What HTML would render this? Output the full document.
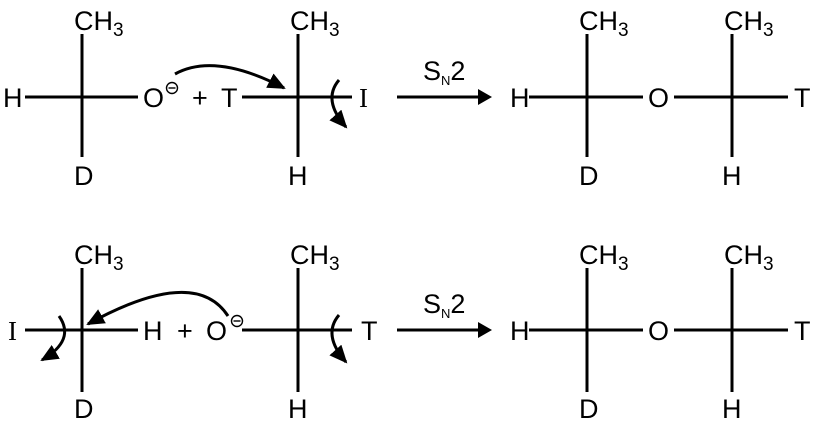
<!DOCTYPE html>
<html><head><style>body{margin:0;background:#fff}svg{display:block}text{font-family:"Liberation Sans",sans-serif;font-size:27px;fill:#000}.s{font-family:"Liberation Serif",serif}</style></head><body>
<svg width="817" height="426" viewBox="0 0 817 426">
<defs><marker id="b" markerWidth="18" markerHeight="16" refX="16" refY="8" orient="auto" markerUnits="userSpaceOnUse" viewBox="0 0 18 16"><path d="M0,0 L18,8 L0,16 z"/></marker></defs>
<g stroke="#000" stroke-width="3" fill="none">
<line x1="25" y1="97" x2="138" y2="97"/><line x1="82" y1="34" x2="82" y2="157"/>
<line x1="242" y1="97" x2="352" y2="97"/><line x1="298" y1="34" x2="298" y2="157"/>
<line x1="397" y1="97" x2="478" y2="97"/>
<line x1="529" y1="97" x2="643" y2="97"/><line x1="587" y1="34" x2="587" y2="157"/>
<line x1="674" y1="97" x2="788" y2="97"/><line x1="732" y1="34" x2="732" y2="157"/>
<path d="M175,74 Q215,52 284,88" marker-end="url(#b)"/>
<path d="M339,80 Q322,100 346,127" marker-end="url(#b)"/>
<line x1="25" y1="330" x2="138" y2="330"/><line x1="82" y1="268" x2="82" y2="392"/>
<line x1="242" y1="330" x2="352" y2="330"/><line x1="298" y1="268" x2="298" y2="392"/>
<line x1="397" y1="330" x2="478" y2="330"/>
<line x1="529" y1="330" x2="643" y2="330"/><line x1="587" y1="268" x2="587" y2="392"/>
<line x1="674" y1="330" x2="788" y2="330"/><line x1="732" y1="268" x2="732" y2="392"/>
<path d="M228,316 Q195,265 88,324" marker-end="url(#b)"/>
<path d="M59,316 Q76,340 42,360" marker-end="url(#b)"/>
<path d="M339,315 Q322,335 346,362" marker-end="url(#b)"/>
</g>
<path d="M478,89 L492,97 L478,105 z"/><path d="M478,322 L492,330 L478,338 z"/>
<g>
<text x="74" y="30">CH<tspan font-size="19" dy="6">3</tspan></text>
<text x="3" y="107">H</text><text x="143" y="107">O</text>
<circle cx="172" cy="88" r="5.5" fill="none" stroke="#000" stroke-width="1.4"/><line x1="168.5" y1="88" x2="175.5" y2="88" stroke="#000" stroke-width="1.4"/>
<text x="192" y="107">+</text><text x="221" y="107">T</text>
<text x="74" y="185">D</text>
<text x="290" y="30">CH<tspan font-size="19" dy="6">3</tspan></text>
<text x="359" y="107" class="s">I</text><text x="288" y="185">H</text>
<text x="423" y="80" font-size="20">S<tspan font-size="13" dy="5">N</tspan><tspan dy="-5">2</tspan></text>
<text x="510" y="107">H</text><text x="648" y="107">O</text><text x="794" y="107">T</text>
<text x="579" y="30">CH<tspan font-size="19" dy="6">3</tspan></text>
<text x="724" y="30">CH<tspan font-size="19" dy="6">3</tspan></text>
<text x="579" y="185">D</text><text x="722" y="185">H</text>

<text x="74" y="264">CH<tspan font-size="19" dy="6">3</tspan></text>
<text x="8" y="340" class="s">I</text><text x="143" y="340">H</text><text x="177" y="340">+</text>
<text x="206" y="340">O</text>
<circle cx="237" cy="321" r="5.5" fill="none" stroke="#000" stroke-width="1.4"/><line x1="233.5" y1="321" x2="240.5" y2="321" stroke="#000" stroke-width="1.4"/>
<text x="74" y="418">D</text>
<text x="290" y="264">CH<tspan font-size="19" dy="6">3</tspan></text>
<text x="361" y="340">T</text><text x="288" y="418">H</text>
<text x="423" y="313" font-size="20">S<tspan font-size="13" dy="5">N</tspan><tspan dy="-5">2</tspan></text>
<text x="510" y="340">H</text><text x="648" y="340">O</text><text x="794" y="340">T</text>
<text x="579" y="264">CH<tspan font-size="19" dy="6">3</tspan></text>
<text x="724" y="264">CH<tspan font-size="19" dy="6">3</tspan></text>
<text x="579" y="418">D</text><text x="722" y="418">H</text>
</g>
</svg>
</body></html>
